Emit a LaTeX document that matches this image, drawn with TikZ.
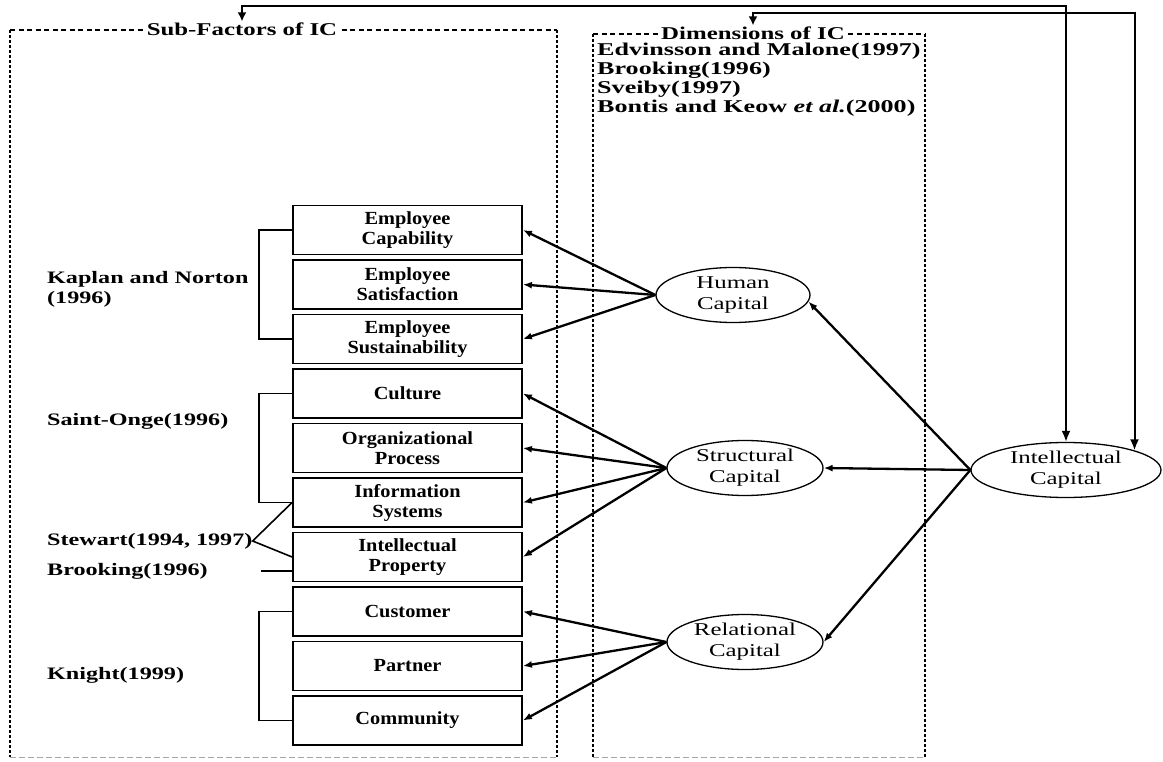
\documentclass[tikz,border=0pt]{standalone}
\usepackage{fontspec}
\setmainfont{Liberation Serif}[FakeStretch=1.38]
\newfontfamily\listfont{Liberation Serif}[FakeStretch=1.45]
\newfontfamily\boxfont{Liberation Serif}[FakeStretch=1.1]
\usetikzlibrary{arrows.meta,shapes.geometric}
\newcommand\figfont{\fontsize{17.5}{20}\selectfont}
\begin{document}
\begin{tikzpicture}[x=1pt, y=-1pt,
  factor/.style={draw, line width=1.8pt, minimum width=229pt, minimum height=49pt,
    inner sep=0pt, align=center, font=\boxfont\fontsize{18.5}{20}\selectfont\bfseries},
  dimension/.style={ellipse, draw, line width=1.3pt, minimum width=156pt, minimum height=55pt,
    inner sep=0pt, align=center, font=\fontsize{18}{21}\selectfont},
  cite/.style={anchor=west, inner sep=0pt, align=left, font=\figfont\bfseries},
  frametitle/.style={fill=white, inner xsep=3pt, inner ysep=1pt, font=\fontsize{18}{20}\selectfont\bfseries},
  side/.style={line width=1.8pt, dash pattern=on 2.6pt off 2.4pt},
  topedge/.style={line width=1.6pt, dash pattern=on 5pt off 3.5pt},
  bottomedge/.style={line width=1pt, black!35, dash pattern=on 6pt off 3pt},
  link/.style={line width=2.3pt, -{Latex[length=9pt,width=7pt]}},
  feedback/.style={line width=2pt, {Latex[length=9pt,width=9pt]}-{Latex[length=11pt,width=9pt]}},
  bracket/.style={line width=1.6pt},
]
\useasboundingbox (0,0) rectangle (1163,762);

% ---- frame: sub-factors ----
\draw[side] (10,30) -- (10,757);
\draw[side] (557,30) -- (557,757);
\draw[topedge] (10,30) -- (557,30);
\draw[bottomedge] (10,757) -- (557,757);
\node[frametitle] (sftitle) at (242,29) {Sub-Factors of IC};

% ---- frame: dimensions ----
\draw[side] (593,34) -- (593,757);
\draw[side] (925,34) -- (925,757);
\draw[topedge] (593,34) -- (925,34);
\draw[bottomedge] (593,757) -- (925,757);
\node[frametitle] (dimtitle) at (753,33) {Dimensions of IC};

\node[cite, anchor=north west, font=\listfont\fontsize{18}{19}\selectfont\bfseries] (refs) at (597,43)
  {Edvinsson and Malone(1997)\\Brooking(1996)\\Sveiby(1997)\\Bontis and Keow \textit{et al.}(2000)};

% ---- sub-factor boxes ----
\node[factor] (ec)  at (407.5,230)   {Employee\\Capability};
\node[factor] (es)  at (407.5,284.5) {Employee\\Satisfaction};
\node[factor] (esu) at (407.5,339)   {Employee\\Sustainability};
\node[factor] (cul) at (407.5,393.5) {Culture};
\node[factor] (op)  at (407.5,448)   {Organizational\\Process};
\node[factor] (is)  at (407.5,502.5) {Information\\Systems};
\node[factor] (ip)  at (407.5,557)   {Intellectual\\Property};
\node[factor] (cus) at (407.5,611.5) {Customer};
\node[factor] (par) at (407.5,666)   {Partner};
\node[factor] (com) at (407.5,720.5) {Community};

% ---- dimensions ----
\node[dimension, minimum width=154pt] (hc) at (733,295) {Human\\Capital};
\node[dimension] (sc) at (745,468) {Structural\\Capital};
\node[dimension] (rc) at (745,642) {Relational\\Capital};
\node[dimension, minimum width=190pt] (ic) at (1066,470) {Intellectual\\Capital};

% ---- sources ----
\node[cite] (kap) at (47,289) {Kaplan and Norton\\(1996)};
\node[cite] (sto) at (47,421) {Saint-Onge(1996)};
\node[cite] (stw) at (47,541) {Stewart(1994, 1997)};
\node[cite] (brk) at (47,571) {Brooking(1996)};
\node[cite] (kni) at (47,675) {Knight(1999)};

\draw[bracket] (ec.west) -- ++(-33,0) |- (esu.west);
\draw[bracket] (cul.west) -- ++(-33,0) |- (is.west);
\draw[bracket] (is.west) -- (stw.east) -- (ip.west);
\coordinate (brkend) at (261,571);
\draw[bracket] (brkend) -- (ip.west |- brkend);
\draw[bracket] (cus.west) -- ++(-33,0) |- (com.west);

% ---- loadings ----
\foreach \b in {ec,es,esu} \draw[link] (hc.west) -- (\b.east);
\foreach \b in {cul,op,is,ip} \draw[link] (sc.west) -- (\b.east);
\foreach \b in {cus,par,com} \draw[link] (rc.west) -- (\b.east);

\draw[link] (ic.west) -- (hc.-5);
\draw[link] (ic.west) -- (sc.east);
\draw[link] (ic.west) -- (rc.east);

% ---- links back to the frames ----
\coordinate (lane1) at (0,6);
\coordinate (lane2) at (0,13);
\draw[feedback] (sftitle.north) -- (sftitle.north |- lane1) -- (ic.north |- lane1) -- (ic.north);
\draw[feedback] (dimtitle.north) -- (dimtitle.north |- lane2) -- (ic.16 |- lane2) -- (ic.16);
\end{tikzpicture}
\end{document}
